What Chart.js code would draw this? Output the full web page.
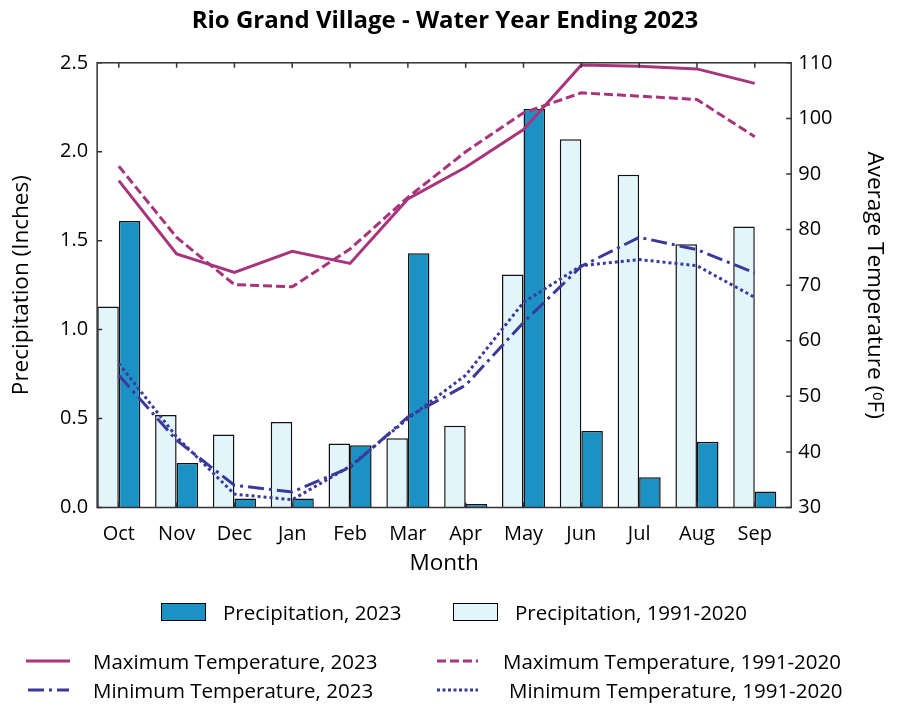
<!DOCTYPE html>
<html>
<head>
<meta charset="utf-8">
<title>Rio Grand Village - Water Year Ending 2023</title>
<script src="https://cdn.jsdelivr.net/npm/chart.js@4.4.0/dist/chart.umd.min.js"></script>
<style>
  body { margin: 0; background: #fff; }
  #wrap { position: relative; width: 900px; height: 714px; }
  #legend { position: absolute; left: 0; top: 0; width: 900px; height: 714px; pointer-events: none;
            font-family: "Open Sans", sans-serif; font-size: 20.5px; color: #000; }
  .item { position: absolute; display: flex; align-items: center; white-space: nowrap; height: 28px; }
  .box { height: 16px; border: 1.5px solid #000; box-sizing: content-box; }
</style>
</head>
<body>
<div id="wrap">
  <canvas id="myChart" width="900" height="714"></canvas>
  <div id="legend"></div>
</div>
<script>
// ---------- data ----------
var months = ["Oct", "Nov", "Dec", "Jan", "Feb", "Mar", "Apr", "May", "Jun", "Jul", "Aug", "Sep"];
var precip2023 = [1.61, 0.25, 0.05, 0.05, 0.35, 1.43, 0.02, 2.24, 0.43, 0.17, 0.37, 0.09];
var precipNormal = [1.13, 0.52, 0.41, 0.48, 0.36, 0.39, 0.46, 1.31, 2.07, 1.87, 1.48, 1.58];
var maxTemp2023 = [88.8, 75.6, 72.3, 76.1, 73.9, 85.5, 91.2, 98.0, 109.6, 109.4, 108.9, 106.3];
var maxTempNormal = [91.4, 78.6, 70.1, 69.7, 76.5, 85.8, 94.0, 101.0, 104.6, 104.0, 103.4, 96.7];
var minTemp2023 = [53.8, 42.1, 34.0, 32.8, 37.2, 46.3, 52.0, 63.3, 73.4, 78.6, 76.4, 72.2];
var minTempNormal = [55.9, 42.7, 32.4, 31.4, 37.4, 46.0, 53.8, 66.9, 73.5, 74.6, 73.5, 67.8];

var precipTicks = [0, 0.5, 1.0, 1.5, 2.0, 2.5];
var tempTicks = [30, 40, 50, 60, 70, 80, 90, 100, 110];

// colours
var darkBlue = "#1b91c4";
var lightBlue = "#e2f5fb";
var maxColor = "#a8347b";
var minColor = "#3b3a9c";

var dash = {
  solid: [],
  maxNormal: [9, 4],
  min2023: [16, 5, 3, 5],
  minNormal: [3, 3]
};

function toPoints(arr) {
  return arr.map(function(v, i) { return { x: i, y: v }; });
}

// frame + inward tick marks
var frameTicks = {
  id: "frameTicks",
  afterDatasetsDraw: function(chart) {
    var ctx = chart.ctx;
    var a = chart.chartArea;
    var sx = chart.scales.x, sy = chart.scales.y, sy1 = chart.scales.y1;
    ctx.save();
    ctx.strokeStyle = "#333";
    ctx.lineWidth = 1.5;
    ctx.beginPath();
    sy.ticks.forEach(function(t) {
      var p = sy.getPixelForValue(t.value);
      ctx.moveTo(a.left, p); ctx.lineTo(a.left + 5, p);
    });
    sy1.ticks.forEach(function(t) {
      var p = sy1.getPixelForValue(t.value);
      ctx.moveTo(a.right, p); ctx.lineTo(a.right - 5, p);
    });
    sx.ticks.forEach(function(t) {
      var p = sx.getPixelForValue(t.value);
      ctx.moveTo(p, a.top); ctx.lineTo(p, a.top + 5);
      ctx.moveTo(p, a.bottom); ctx.lineTo(p, a.bottom - 5);
    });
    ctx.stroke();
    ctx.strokeRect(a.left, a.top, a.right - a.left, a.bottom - a.top);
    ctx.restore();
  }
};

var fontFam = '"Open Sans", sans-serif';

var ctx = document.getElementById("myChart").getContext("2d");
var chart = new Chart(ctx, {
  type: "bar",
  data: {
    datasets: [
      { type: "line", label: "Maximum Temperature, 2023", data: toPoints(maxTemp2023), yAxisID: "y1",
        borderColor: maxColor, borderWidth: 3, borderDash: dash.solid, pointRadius: 0, order: 0 },
      { type: "line", label: "Maximum Temperature, 1991-2020", data: toPoints(maxTempNormal), yAxisID: "y1",
        borderColor: maxColor, borderWidth: 3, borderDash: dash.maxNormal, pointRadius: 0, order: 0 },
      { type: "line", label: "Minimum Temperature, 2023", data: toPoints(minTemp2023), yAxisID: "y1",
        borderColor: minColor, borderWidth: 3, borderDash: dash.min2023, pointRadius: 0, order: 0 },
      { type: "line", label: "Minimum Temperature, 1991-2020", data: toPoints(minTempNormal), yAxisID: "y1",
        borderColor: minColor, borderWidth: 3, borderDash: dash.minNormal, pointRadius: 0, order: 0 },
      { label: "Precipitation, 1991-2020", data: toPoints(precipNormal), yAxisID: "y",
        backgroundColor: lightBlue, borderColor: "#111", borderWidth: 1.5, order: 1,
        categoryPercentage: 0.745, barPercentage: 1.0 },
      { label: "Precipitation, 2023", data: toPoints(precip2023), yAxisID: "y",
        backgroundColor: darkBlue, borderColor: "#111", borderWidth: 1.5, order: 1,
        categoryPercentage: 0.745, barPercentage: 1.0 }
    ]
  },
  options: {
    responsive: false,
    animation: false,
    layout: { padding: { left: 2, right: 12, top: 0, bottom: 137 } },
    plugins: {
      legend: { display: false },
      tooltip: { enabled: false },
      title: {
        display: true,
        text: "Rio Grand Village - Water Year Ending 2023",
        color: "#000",
        font: { family: fontFam, size: 24, weight: "bold" },
        padding: { top: 7, bottom: 27 }
      }
    },
    scales: {
      x: {
        type: "linear",
        offset: false,
        min: -0.375,
        max: 11.63,
        afterBuildTicks: function(axis) {
          axis.ticks = months.map(function(m, i) { return { value: i }; });
        },
        grid: { display: false, drawTicks: false },
        border: { display: false },
        ticks: {
          autoSkip: false, maxRotation: 0, padding: 15, color: "#000",
          font: { family: fontFam, size: 20 },
          callback: function(v) { return months[Math.round(v)]; }
        },
        // negative top padding cancels the doubled tick padding chart.js reserves
        title: { display: true, text: "Month", color: "#000", font: { family: fontFam, size: 22.5 }, padding: { top: -11.5, bottom: 0 } }
      },
      y: {
        position: "left",
        min: 0, max: 2.5,
        afterBuildTicks: function(axis) {
          axis.ticks = precipTicks.map(function(v) { return { value: v }; });
        },
        grid: { display: false, drawTicks: false },
        border: { display: false },
        ticks: {
          padding: 9, color: "#000", font: { family: fontFam, size: 20 },
          callback: function(v) { return v.toFixed(1); }
        },
        title: { display: true, text: "Precipitation (Inches)", color: "#000", font: { family: fontFam, size: 22.5 }, padding: { top: 6, bottom: 16 } }
      },
      y1: {
        position: "right",
        min: 30, max: 110,
        afterBuildTicks: function(axis) {
          axis.ticks = tempTicks.map(function(v) { return { value: v }; });
        },
        grid: { display: false, drawTicks: false },
        border: { display: false },
        ticks: { padding: 7, color: "#000", font: { family: fontFam, size: 20 } },
        title: { display: true, text: "Average Temperature (\u1D52F)", color: "#000", font: { family: fontFam, size: 22.5 }, padding: { top: 0, bottom: 21.5 } }
      }
    }
  },
  plugins: [frameTicks]
});

// ---------- legend (html) ----------
var legendItems = [
  { kind: "box", color: darkBlue, label: "Precipitation, 2023", left: 161, cy: 612, w: 43, gap: 17 },
  { kind: "box", color: lightBlue, label: "Precipitation, 1991-2020", left: 453, cy: 612, w: 43, gap: 17 },
  { kind: "line", color: maxColor, d: dash.solid, label: "Maximum Temperature, 2023", left: 26, cy: 661, w: 44, gap: 23 },
  { kind: "line", color: maxColor, d: dash.maxNormal, label: "Maximum Temperature, 1991-2020", left: 437, cy: 661, w: 41, gap: 25 },
  { kind: "line", color: minColor, d: dash.min2023, label: "Minimum Temperature, 2023", left: 28, cy: 690, w: 41, gap: 24 },
  { kind: "line", color: minColor, d: [3, 2.5], label: "Minimum Temperature, 1991-2020", left: 437, cy: 690, w: 41, gap: 31 }
];

var legendDiv = document.getElementById("legend");
legendItems.forEach(function(it) {
  var el = document.createElement("div");
  el.className = "item";
  el.style.left = it.left + "px";
  el.style.top = (it.cy - 14) + "px";
  var sw;
  if (it.kind === "box") {
    sw = document.createElement("div");
    sw.className = "box";
    sw.style.width = it.w + "px";
    sw.style.background = it.color;
  } else {
    sw = document.createElementNS("http://www.w3.org/2000/svg", "svg");
    sw.setAttribute("width", it.w);
    sw.setAttribute("height", 6);
    var ln = document.createElementNS("http://www.w3.org/2000/svg", "line");
    ln.setAttribute("x1", 0); ln.setAttribute("x2", it.w);
    ln.setAttribute("y1", 3); ln.setAttribute("y2", 3);
    ln.setAttribute("stroke", it.color);
    ln.setAttribute("stroke-width", 3);
    if (it.d.length) ln.setAttribute("stroke-dasharray", it.d.join(" "));
    sw.appendChild(ln);
  }
  sw.style.marginRight = it.gap + "px";
  var tx = document.createElement("span");
  tx.textContent = it.label;
  el.appendChild(sw);
  el.appendChild(tx);
  legendDiv.appendChild(el);
});
</script>
</body>
</html>
